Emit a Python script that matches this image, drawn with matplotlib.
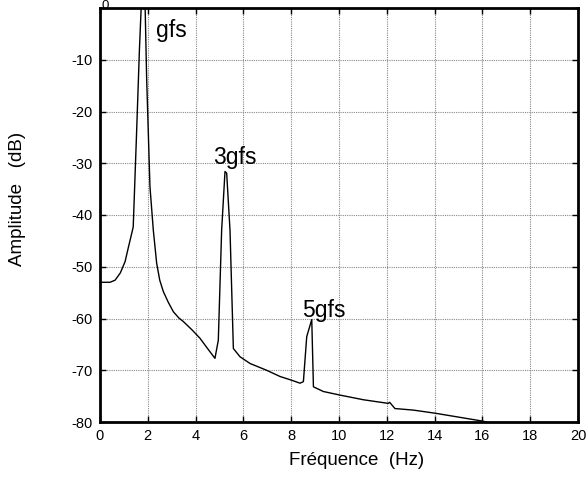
import matplotlib
matplotlib.use("Agg")
import matplotlib.pyplot as plt

plt.rcParams['font.family'] = ['Liberation Sans', 'DejaVu Sans']

# Spectrum
freq = [0.0, 0.42, 0.63, 0.85, 1.05, 1.18, 1.33, 1.39, 1.53, 1.65, 1.74, 1.88,
        1.95, 2.09, 2.23, 2.37, 2.50, 2.65, 2.85, 3.07, 3.30, 3.49, 3.85, 4.18,
        4.50, 4.81, 4.95, 5.09, 5.23, 5.30, 5.44, 5.58, 5.86, 6.28, 6.97, 7.53,
        8.00, 8.37, 8.51, 8.65, 8.86, 8.93, 9.34, 10.04, 11.02, 12.06, 12.12,
        12.34, 13.11, 14.02, 15.06, 15.97, 16.18]
ampl = [-53.0, -53.0, -52.6, -51.2, -49.0, -46.4, -43.5, -42.3, -24.2, -8.0, 2.0, 2.0,
        -13.3, -34.5, -42.9, -49.3, -52.6, -54.8, -56.8, -58.7, -59.9, -60.6, -62.2, -63.8,
        -65.8, -67.7, -64.2, -42.9, -31.6, -31.9, -43.0, -65.8, -67.4, -68.7, -70.0, -71.2,
        -71.9, -72.5, -72.2, -63.5, -60.2, -73.2, -74.1, -74.8, -75.7, -76.4, -76.2,
        -77.4, -77.7, -78.3, -79.1, -79.8, -80.0]

peak_labels = ["gfs", "3gfs", "5gfs"]
peak_x = [3.0, 5.65, 9.35]
peak_y = [-4.4, -28.8, -58.4]

xticks = list(range(0, 21, 2))
yticks = list(range(-80, 1, 10))

fig = plt.figure(figsize=(5.87, 4.79), dpi=100)
ax = fig.add_axes([100/587, 1 - 422/479, 478/587, 414/479])

ax.plot(freq, ampl, color='black', lw=1.0, clip_on=True)

ax.set_xlim(0, 20)
ax.set_ylim(-80, 0)
ax.set_xticks(xticks)
ax.set_yticks(yticks)
ax.set_yticklabels([str(v) if v != 0 else '' for v in yticks])
ax.tick_params(direction='in', top=True, right=True, length=4, width=1,
               labelsize=10.5, pad=5)
ax.grid(True, color='#888888', linestyle=(0, (1, 1)), linewidth=0.8)
for s in ax.spines.values():
    s.set_linewidth(2)
    s.set_color('black')

fig.text(101/587, 1.0, "0", fontsize=9.5, ha='left', va='top')

for lab, x, y in zip(peak_labels, peak_x, peak_y):
    ax.text(x, y, lab, fontsize=16.5, ha='center', va='center')

ax.set_xlabel("Fréquence  (Hz)", fontsize=13.5)
ax.xaxis.set_label_coords((357 - 100) / 478, -0.072)
fig.text(18/587, 1 - 199/479, "Amplitude   (dB)", fontsize=13.5, rotation=90,
         ha='center', va='center')

fig.savefig("out.png", dpi=100)
